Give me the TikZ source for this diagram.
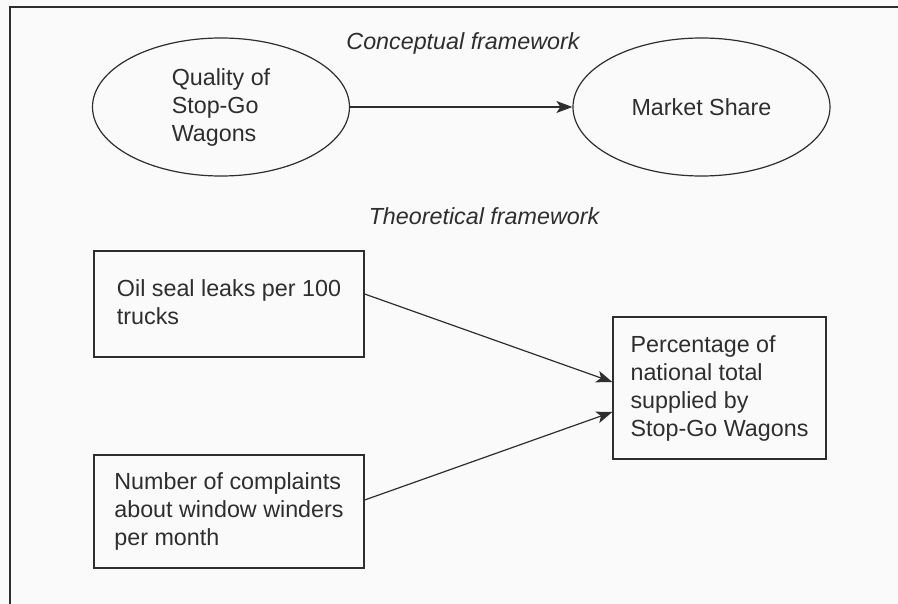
\documentclass[tikz,border=0pt]{standalone}
\usepackage{fontspec}
\setmainfont{Liberation Sans}
\usetikzlibrary{shapes.geometric,arrows.meta}
\definecolor{ink}{HTML}{2E2E2E}
\begin{document}
\begin{tikzpicture}[x=1pt,y=-1pt,
  every node/.style={text=ink,font=\fontsize{23.3}{28}\selectfont},
  oval/.style={ellipse,draw=ink,line width=1.2pt,inner sep=0pt,minimum width=257pt,minimum height=138pt,align=left},
  boxnode/.style={rectangle,draw=ink,line width=1.3pt,inner sep=0pt,align=left},
  heading/.style={font=\fontsize{23.3}{28}\selectfont\itshape},
  conn/.style={draw=ink,line width=1.2pt,-{Stealth[length=16pt,width=12pt,inset=4pt]}}]
\useasboundingbox (0,0) rectangle (898,604);
\fill[white!98!black] (0,0) rectangle (898,604);
\draw[ink,line width=1.6pt] (898,7) -- (10,7) -- (10,604);
\node[heading] (concept) at (463,43) {Conceptual framework};
\node[heading] (theo) at (484,216) {Theoretical framework};
\node[oval] (qual) at (221,107) {Quality of\\Stop-Go\\Wagons};
\node[oval] (ms) at (701.5,107) {Market Share};
\node[boxnode,minimum width=270pt,minimum height=106pt] (b1) at (229,304) {Oil seal leaks per 100\\trucks\phantom{y}};
\node[boxnode,minimum width=270pt,minimum height=113pt] (b2) at (229,511.5) {Number of complaints\\about window winders\\per month};
\node[boxnode,minimum width=213pt,minimum height=142pt] (b3) at (719.5,388) {Percentage of\\national total\\supplied by\\Stop-Go Wagons};
\draw[conn] (qual.east) -- (ms.west);
\draw[conn] ([yshift=10pt]b1.east) -- ([yshift=6pt]b3.west);
\draw[conn] ([yshift=11.5pt]b2.east) -- ([yshift=-24pt]b3.west);
\end{tikzpicture}
\end{document}
